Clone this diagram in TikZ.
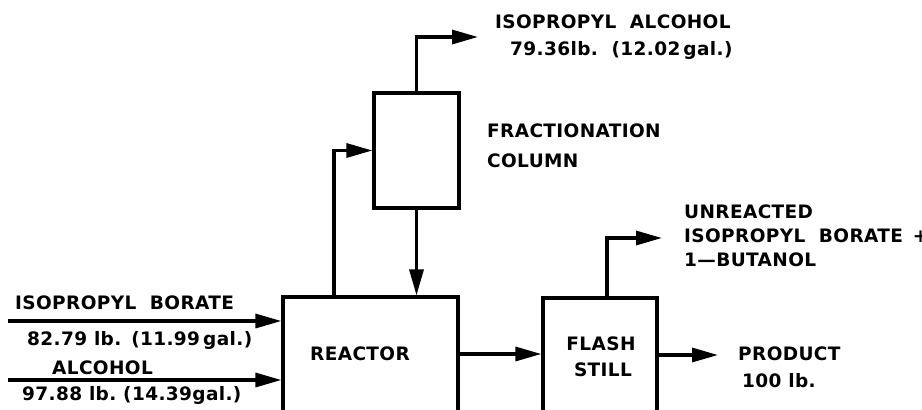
\documentclass[tikz,border=0pt]{standalone}
\usepackage{fontspec}
\setmainfont{DejaVu Sans}[LetterSpace=2]
\usetikzlibrary{arrows.meta}
\begin{document}
\begin{tikzpicture}[x=1pt,y=-1pt,
  lbl/.style={font=\bfseries\fontsize{18.5}{22}\selectfont, inner sep=0pt, anchor=base west},
  box/.style={draw, line width=3.2pt, inner sep=0pt},
  flow/.style={-{Triangle[length=26pt,width=14pt]}, line width=3.2pt},
]
\useasboundingbox (0,0) rectangle (922,410);
\clip (0,0) rectangle (922,410);

% boxes
\node[box, minimum width=85pt, minimum height=115pt] (col) at (416.5,150.5) {};
\node[box, minimum width=175pt, minimum height=130pt] (reac) at (370.5,362) {};
\node[box, minimum width=114pt, minimum height=130pt] (flash) at (600,363) {};

% labels
\node[lbl] (treac) at (310,360) {REACTOR};
\node[lbl, anchor=base] (tflash) at (601,350) {FLASH};
\node[lbl, anchor=base] (tstill) at (603,376) {STILL};
\node[lbl] (tfrac) at (487,137) {FRACTIONATION};
\node[lbl] (tcol) at (487,167) {COLUMN};
\node[lbl] (tipa) at (495,28) {ISOPROPYL\ \ ALCOHOL};
\node[lbl] (tipaq) at (510,55) {79.36lb.\ \ (12.02\,gal.)};
\node[lbl] (tib) at (15,309) {ISOPROPYL\ \ BORATE};
\node[lbl] (tibq) at (27,345) {82.79 lb.\ \,(11.99\,gal.)};
\node[lbl] (talc) at (52,374) {ALCOHOL};
\node[lbl] (talcq) at (22,400) {97.88 lb.\ (14.39gal.)};
\node[lbl] (tunr1) at (684,218) {UNREACTED};
\node[lbl] (tunr2) at (684,242) {ISOPROPYL\ \ BORATE\ \,+};
\node[lbl] (tunr3) at (684,266) {1—BUTANOL};
\node[lbl] (tprod) at (738,360) {PRODUCT};
\node[lbl] (tprodq) at (742,387) {100\ lb.};

% connectors
\coordinate (ipaend) at (478,37);
\draw[flow] (col.north) |- (ipaend);
\coordinate (rc) at (334,297);
\draw[flow] (rc) |- (col.west);
\draw[flow] (col.south) -- (col.south |- reac.north);
\coordinate (f1) at (8,321);
\coordinate (f2) at (8,380);
\draw[flow] (f1) -- (f1 -| reac.west);
\draw[flow] (f2) -- (f2 -| reac.west);
\coordinate (m) at (500,354);
\draw[flow] (reac.east |- m) -- (flash.west |- m);
\coordinate (unr) at (662,238);
\draw[flow] ([xshift=7pt]flash.north) |- (unr);
\coordinate (prodend) at (718,355);
\draw[flow] (flash.east |- prodend) -- (prodend);
\end{tikzpicture}
\end{document}
